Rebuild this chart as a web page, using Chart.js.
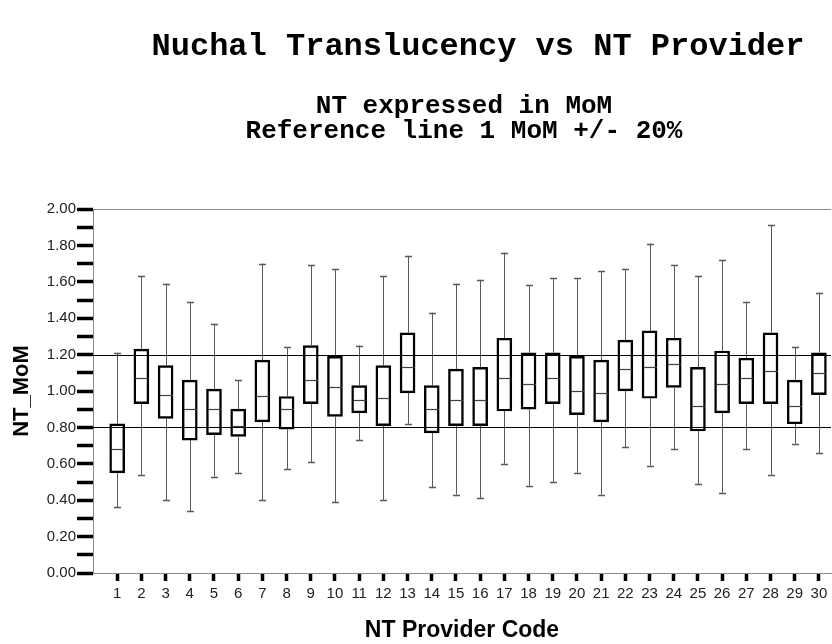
<!DOCTYPE html>
<html>
<head>
<meta charset="utf-8">
<script src="https://cdn.jsdelivr.net/npm/chart.js@4/dist/chart.umd.min.js"></script>
<style>
  html, body { margin: 0; padding: 0; background: #ffffff; }
  #wrap { width: 832px; height: 644px; position: relative; }
</style>
</head>
<body>
<div id="wrap"><canvas id="c" width="832" height="644"></canvas></div>
<script>
const titleText = "Nuchal Translucency vs NT Provider";
const subtitleLines = ["NT expressed in MoM", "Reference line 1 MoM +/- 20%"];
const xTitle = "NT Provider Code";
const yTitle = "NT_MoM";

const categories = [1,2,3,4,5,6,7,8,9,10,11,12,13,14,15,16,17,18,19,20,21,22,23,24,25,26,27,28,29,30];
const whiskerMin = [0.36,0.54,0.40,0.34,0.53,0.55,0.40,0.57,0.61,0.39,0.73,0.40,0.82,0.47,0.43,0.41,0.60,0.48,0.50,0.55,0.43,0.69,0.59,0.68,0.49,0.44,0.68,0.54,0.71,0.66];
const q1 =        [0.55,0.93,0.85,0.73,0.76,0.75,0.83,0.79,0.93,0.86,0.88,0.81,0.99,0.77,0.81,0.81,0.89,0.90,0.93,0.87,0.83,1.00,0.96,1.02,0.78,0.88,0.93,0.93,0.82,0.98];
const median =    [0.68,1.07,0.98,0.90,0.90,0.81,0.97,0.90,1.06,1.02,0.95,0.96,1.13,0.90,0.95,0.95,1.07,1.04,1.07,1.00,0.99,1.12,1.13,1.15,0.92,1.04,1.07,1.11,0.92,1.10];
const q3 =        [0.82,1.23,1.14,1.06,1.01,0.90,1.17,0.97,1.25,1.19,1.03,1.14,1.32,1.03,1.12,1.13,1.29,1.21,1.21,1.19,1.17,1.28,1.33,1.29,1.13,1.22,1.18,1.32,1.06,1.21];
const whiskerMax = [1.21,1.63,1.59,1.49,1.37,1.06,1.70,1.24,1.69,1.67,1.25,1.63,1.74,1.43,1.59,1.61,1.76,1.58,1.62,1.62,1.66,1.67,1.81,1.69,1.63,1.72,1.49,1.91,1.24,1.54];
const referenceLines = [0.8, 1.2];
const yTickValues = [0,0.1,0.2,0.3,0.4,0.5,0.6,0.7,0.8,0.9,1.0,1.1,1.2,1.3,1.4,1.5,1.6,1.7,1.8,1.9,2.0];

const boxPlugin = {
  id: 'boxExtras',
  afterDatasetsDraw(chart) {
    const ctx = chart.ctx;
    const xs = chart.scales.x, ys = chart.scales.y;
    const area = chart.chartArea;
    ctx.save();
    categories.forEach((c, i) => {
      const px = Math.round(xs.getPixelForValue(c)) + 0.5;
      const yMin = ys.getPixelForValue(whiskerMin[i]);
      const yQ1 = ys.getPixelForValue(q1[i]);
      const yQ3 = ys.getPixelForValue(q3[i]);
      const yMax = ys.getPixelForValue(whiskerMax[i]);
      const yMed = Math.round(ys.getPixelForValue(median[i])) + 0.5;
      ctx.strokeStyle = '#5a5a5a';
      ctx.lineWidth = 1;
      ctx.beginPath();
      ctx.moveTo(px, yQ3); ctx.lineTo(px, yMax);
      ctx.moveTo(px, yQ1); ctx.lineTo(px, yMin);
      ctx.stroke();
      ctx.lineWidth = 1.5;
      ctx.beginPath();
      ctx.moveTo(px - 3.5, Math.round(yMax) + 0.5); ctx.lineTo(px + 3.5, Math.round(yMax) + 0.5);
      ctx.moveTo(px - 3.5, Math.round(yMin) + 0.5); ctx.lineTo(px + 3.5, Math.round(yMin) + 0.5);
      ctx.stroke();
      ctx.strokeStyle = '#404040';
      ctx.lineWidth = 1.2;
      ctx.beginPath();
      ctx.moveTo(px - 6.5, yMed); ctx.lineTo(px + 6.5, yMed);
      ctx.stroke();
    });
    ctx.strokeStyle = '#000000';
    ctx.lineWidth = 1;
    referenceLines.forEach(v => {
      const py = Math.round(ys.getPixelForValue(v)) + 0.5;
      ctx.beginPath();
      ctx.moveTo(area.left, py); ctx.lineTo(area.right, py);
      ctx.stroke();
    });
    ctx.strokeStyle = '#8a8a8a';
    const top = Math.round(ys.getPixelForValue(2.0)) + 0.5;
    ctx.beginPath();
    ctx.moveTo(area.left, top); ctx.lineTo(area.right, top);
    ctx.stroke();
    ctx.restore();
  },
  afterDraw(chart) {
    const ctx = chart.ctx;
    ctx.save();
    ctx.fillStyle = '#000000';
    ctx.textAlign = 'center';
    ctx.textBaseline = 'middle';
    ctx.font = 'bold 32px "Liberation Mono", "Courier New", monospace';
    ctx.fillText(titleText, 478, 47);
    ctx.font = 'bold 26px "Liberation Mono", "Courier New", monospace';
    ctx.fillText(subtitleLines[0], 464, 106);
    ctx.fillText(subtitleLines[1], 464, 131);
    ctx.restore();
  }
};

new Chart(document.getElementById('c'), {
  type: 'bar',
  data: {
    datasets: [{
      label: 'Box',
      data: categories.map((c, i) => ({ x: c, y: [q1[i], q3[i]] })),
      backgroundColor: 'rgba(255,255,255,0)',
      borderColor: '#000000',
      borderWidth: 1.8,
      borderSkipped: false,
      barThickness: 15
    }]
  },
  options: {
    responsive: false,
    animation: false,
    events: [],
    layout: { padding: { left: 5, right: 1, top: 209, bottom: 0 } },
    plugins: { legend: { display: false }, tooltip: { enabled: false }, title: { display: false } },
    scales: {
      x: {
        type: 'linear',
        min: 0,
        max: 30.5,
        offset: false,
        afterBuildTicks: (s) => { s.ticks = categories.map(v => ({ value: v })); },
        afterFit: (s) => { s.height = 71; },
        grid: { offset: false, drawOnChartArea: false, drawTicks: true, tickLength: 8, tickWidth: 3.5, tickColor: '#000000' },
        border: { display: true, color: '#8a8a8a', width: 1 },
        ticks: {
          color: '#222222', font: { family: 'Liberation Sans, Arial, sans-serif', size: 15 }, padding: 4,
          maxRotation: 0, autoSkip: false,
          callback: (v) => String(v)
        },
        title: { display: true, text: xTitle, color: '#000000', font: { family: 'Liberation Sans, Arial, sans-serif', size: 23, weight: 'bold' }, padding: { top: 14, bottom: 0 } }
      },
      y: {
        type: 'linear',
        min: 0,
        max: 2.0,
        afterBuildTicks: (s) => { s.ticks = yTickValues.map(v => ({ value: v })); },
        afterFit: (s) => { s.width = 88; },
        grid: { drawOnChartArea: false, drawTicks: true, tickLength: 16, tickWidth: 3.5, tickColor: '#000000' },
        border: { display: true, color: '#8a8a8a', width: 1 },
        ticks: {
          color: '#222222', font: { family: 'Liberation Sans, Arial, sans-serif', size: 15 }, padding: 1,
          autoSkip: false,
          callback: (v) => (Math.round(v * 10) % 2 === 0 ? v.toFixed(2) : '')
        },
        title: { display: true, text: yTitle, color: '#000000', font: { family: 'Liberation Sans, Arial, sans-serif', size: 22, weight: 'bold' }, padding: { top: 4, bottom: 0 } }
      }
    }
  },
  plugins: [boxPlugin]
});
</script>
</body>
</html>
